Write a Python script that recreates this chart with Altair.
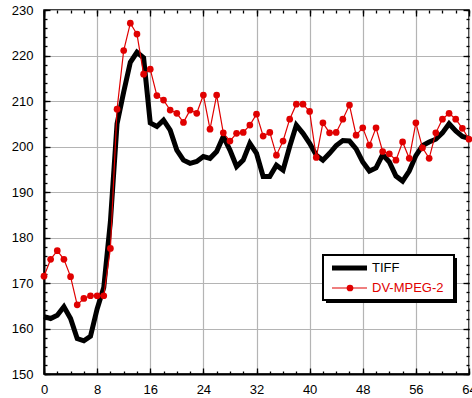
import altair as alt
import pandas as pd

# Frame index and per-frame values of the two series
frames = list(range(65))
tiff = [
    162.6, 162.2, 162.9, 164.8, 162.2, 157.8, 157.3, 158.3, 164.3, 169.0,
    183.5, 205.0, 212.0, 218.5, 220.7, 219.5, 205.2, 204.4, 205.8, 203.6,
    199.2, 197.0, 196.3, 196.7, 197.8, 197.4, 198.9, 202.2, 199.2, 195.6,
    197.0, 200.7, 198.5, 193.4, 193.4, 195.9, 194.8, 200.0, 204.7, 202.9,
    200.7, 198.1, 197.0, 198.5, 200.2, 201.3, 201.2, 199.5, 196.6, 194.6,
    195.3, 198.2, 196.6, 193.5, 192.4, 194.6, 198.0, 200.2, 201.0, 201.6,
    203.0, 205.0, 203.4, 202.2, 201.8,
]
dv_mpeg2 = [
    171.5, 175.2, 177.1, 175.2, 171.4, 165.2, 166.6, 167.2, 167.2, 167.2,
    177.6, 208.2, 221.1, 227.1, 224.7, 215.9, 217.0, 211.2, 210.2, 208.0,
    207.3, 205.3, 208.0, 207.3, 211.3, 203.8, 211.3, 203.0, 201.2, 202.9,
    203.1, 204.7, 207.1, 202.3, 203.1, 198.1, 201.2, 206.0, 209.3, 209.3,
    207.7, 197.6, 205.2, 203.0, 203.1, 206.0, 209.1, 202.5, 204.1, 200.3,
    204.1, 198.9, 198.4, 197.0, 201.0, 197.4, 205.2, 199.7, 197.4, 203.0,
    206.0, 207.3, 206.0, 204.0, 201.6,
]
series_names = ["TIFF", "DV-MPEG-2"]

x_major = list(range(0, 65, 8))
x_minor = list(range(0, 65, 2))
y_major = list(range(150, 231, 10))
y_minor = list(range(150, 231, 2))

df = pd.DataFrame({
    "frame": frames * 2,
    "value": tiff + dv_mpeg2,
    "series": [series_names[0]] * len(frames) + [series_names[1]] * len(frames),
})
legend_df = pd.DataFrame({"series": series_names})

FONT = "Liberation Sans"
RED = "#e00000"
W, H = 425, 364

xscale = alt.Scale(domain=[0, 64], nice=False, zero=False)
yscale = alt.Scale(domain=[150, 230], nice=False, zero=False)


def label_axis(orient, values, padding):
    return alt.Axis(
        orient=orient, values=values, title=None,
        grid=True, gridColor="#b4b4b4", gridWidth=1.2,
        ticks=False, tickSize=0,
        domain=True, domainColor="black", domainWidth=2,
        labelFont=FONT, labelFontSize=13, labelColor="black",
        labelPadding=padding, labelFlush=False, labelOverlap=False,
    )


def tick_axis(orient, values, size):
    # inward-pointing ticks: the axis is pulled into the plot by its tick length
    return alt.Axis(
        orient=orient, values=values, title=None, offset=-size,
        tickSize=size, tickColor="black", tickWidth=1.3,
        labels=False, domain=False, grid=False,
    )


base = alt.Chart(df)

tiff_line = base.transform_filter(alt.datum.series == "TIFF").mark_line(
    color="black", strokeWidth=5
).encode(
    x=alt.X("frame:Q", scale=xscale, axis=label_axis("bottom", x_major, 9)),
    y=alt.Y("value:Q", scale=yscale, axis=label_axis("left", y_major, 11)),
)

dv_line = base.transform_filter(alt.datum.series == "DV-MPEG-2").mark_line(
    color=RED, strokeWidth=1.2
).encode(
    x=alt.X("frame:Q", scale=xscale, axis=tick_axis("bottom", x_major, 6)),
    y=alt.Y("value:Q", scale=yscale, axis=tick_axis("left", y_major, 6)),
)

dv_points = base.transform_filter(alt.datum.series == "DV-MPEG-2").mark_circle(
    color=RED, size=45, opacity=1
).encode(
    x=alt.X("frame:Q", scale=xscale, axis=tick_axis("bottom", x_minor, 3)),
    y=alt.Y("value:Q", scale=yscale, axis=tick_axis("left", y_minor, 3)),
)

frame_major = base.transform_filter(alt.datum.series == "TIFF").mark_line(
    opacity=0
).encode(
    x=alt.X("frame:Q", scale=xscale, axis=tick_axis("top", x_major, 6)),
    y=alt.Y("value:Q", scale=yscale, axis=tick_axis("right", y_major, 6)),
)

frame_minor = base.transform_filter(alt.datum.series == "TIFF").mark_line(
    opacity=0
).encode(
    x=alt.X("frame:Q", scale=xscale, axis=tick_axis("top", x_minor, 3)),
    y=alt.Y("value:Q", scale=yscale, axis=tick_axis("right", y_minor, 3)),
)

# Legend box with drop shadow
leg = alt.Chart(legend_df)
one = leg.transform_filter(alt.datum.series == "TIFF")
two = leg.transform_filter(alt.datum.series == "DV-MPEG-2")

shadow = one.mark_rect(color="black").encode(
    x=alt.value(282), x2=alt.value(413), y=alt.value(248), y2=alt.value(293)
)
box = one.mark_rect(fill="white", stroke="black", strokeWidth=2).encode(
    x=alt.value(279), x2=alt.value(410), y=alt.value(245), y2=alt.value(290)
)
tiff_sample = one.mark_rule(color="black", strokeWidth=5).encode(
    x=alt.value(288), x2=alt.value(323), y=alt.value(258)
)
tiff_text = one.mark_text(
    align="left", baseline="middle", font=FONT, fontSize=13, color="black"
).encode(x=alt.value(328), y=alt.value(258), text="series:N")
dv_sample = two.mark_rule(color=RED, strokeWidth=1.2).encode(
    x=alt.value(288), x2=alt.value(323), y=alt.value(278)
)
dv_dot = two.mark_circle(color=RED, size=45, opacity=1).encode(
    x=alt.value(306), y=alt.value(278)
)
dv_text = two.mark_text(
    align="left", baseline="middle", font=FONT, fontSize=13, color=RED
).encode(x=alt.value(328), y=alt.value(278), text="series:N")

chart = alt.layer(
    tiff_line, dv_line, dv_points, frame_major, frame_minor,
    shadow, box, tiff_sample, tiff_text, dv_sample, dv_dot, dv_text,
).resolve_axis(
    x="independent", y="independent"
).properties(
    width=W, height=H,
    padding={"left": 44, "top": 10, "right": 3, "bottom": 24},
    autosize=alt.AutoSizeParams(type="none"),
    background="white",
).configure_view(
    stroke="black", strokeWidth=1.5
)

chart.save("out.html", embed_options={"renderer": "svg", "actions": False})
